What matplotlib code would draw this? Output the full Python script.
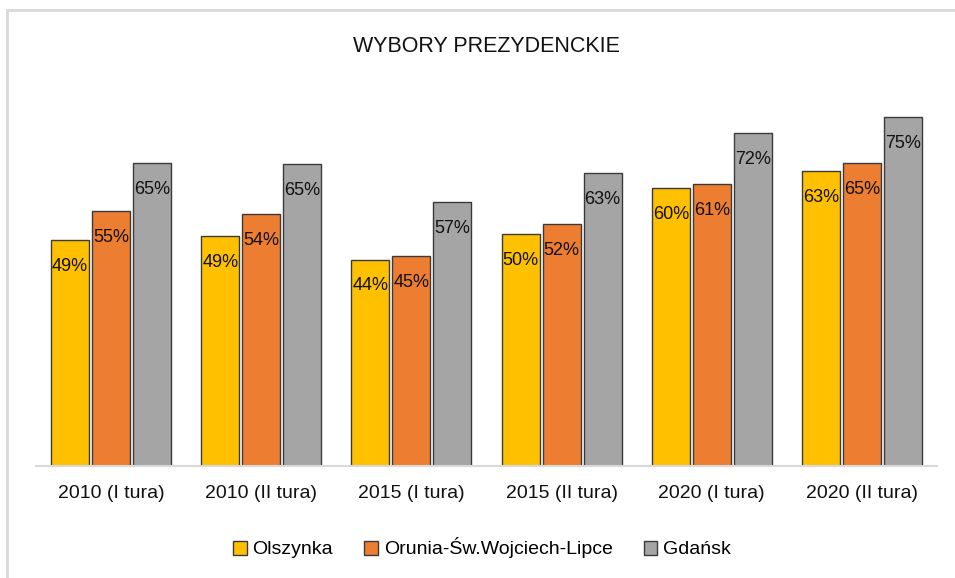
import matplotlib.pyplot as plt
from matplotlib.patches import Rectangle
import numpy as np

plt.rcParams['font.family'] = ['Liberation Sans', 'DejaVu Sans']

# ── DANE ─────────────────────────────────────────
kategorie = ["2010 (I tura)", "2010 (II tura)", "2015 (I tura)",
             "2015 (II tura)", "2020 (I tura)", "2020 (II tura)"]
olszynka = [48.6, 49.4, 44.4, 49.9, 59.8, 63.4]
orunia = [54.8, 54.2, 45.2, 52.0, 60.6, 65.2]
gdansk = [65.2, 64.9, 56.8, 63.0, 71.6, 75.0]
serie = ["Olszynka", "Orunia-Św.Wojciech-Lipce", "Gdańsk"]
kolory = ["#FFC000", "#ED7D31", "#A5A5A5"]

# ── WYKRES ───────────────────────────────────────
fig = plt.figure(figsize=(9.55, 5.78), dpi=100)
ax = fig.add_axes([36/955, 1 - 466/578, 901/955, 372/578])

x = np.arange(len(kategorie))
krok, szer = 0.273, 0.253
for k, (dane, nazwa, kol) in enumerate(zip([olszynka, orunia, gdansk], serie, kolory)):
    slupki = ax.bar(x + (k - 1) * krok, dane, szer, color=kol,
                    edgecolor="#3a3a3a", linewidth=1.0, label=nazwa)
    for s, v in zip(slupki, dane):
        ax.annotate(f"{round(v):.0f}%", (s.get_x() + s.get_width() / 2, v),
                    xytext=(0, -19), textcoords="offset points",
                    ha="center", va="center", fontsize=13, color="#111111")

ax.set_xlim(-0.5, 5.5)
ax.set_ylim(0, 80)
ax.set_xticks(x)
ax.set_xticklabels(kategorie, fontsize=14, color="#111111")
ax.tick_params(axis="x", length=0, pad=14)
ax.set_yticks([])
for s in ["top", "left", "right"]:
    ax.spines[s].set_visible(False)
ax.spines["bottom"].set_color("#d9d9d9")
ax.spines["bottom"].set_linewidth(1.5)

fig.text(486/955, 1 - 46/578, "WYBORY PREZYDENCKIE", ha="center", va="center",
         fontsize=15.5, color="#111111")

fig.legend(loc="center", bbox_to_anchor=(482/955, 1 - 548/578), ncol=3,
           frameon=False, fontsize=14, handlelength=0.7, handleheight=0.7,
           handletextpad=0.3, columnspacing=1.6)

# ramka wokół wykresu
fig.patches.append(Rectangle((7/955, -0.1), 1.2, 1 - 10/578 + 0.1,
                             transform=fig.transFigure, fill=False,
                             edgecolor="#d9d9d9", linewidth=2))

fig.savefig("out.png", dpi=100)
